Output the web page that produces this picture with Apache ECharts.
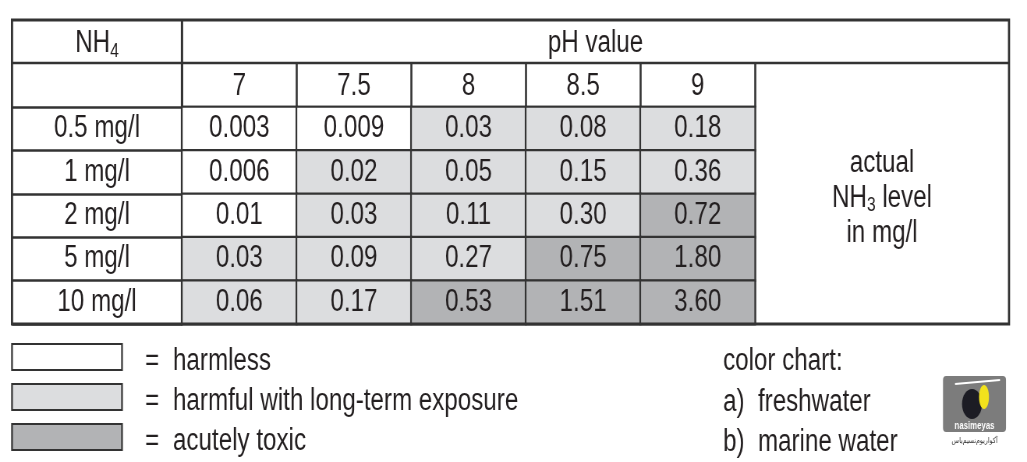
<!DOCTYPE html>
<html>
<head>
<meta charset="utf-8">
<script src="https://cdn.jsdelivr.net/npm/echarts@6/dist/echarts.min.js"></script>
<style>
  html, body { margin: 0; padding: 0; background: #fff; overflow: hidden; }
  /* drawn wide, then squeezed to get a condensed type look */
  #main { width: 1317px; height: 462px; transform: scaleX(0.779803); transform-origin: 0 0; }
</style>
</head>
<body>
<div id="main"></div>
<script>
// table data
const phValues = ['7', '7.5', '8', '8.5', '9']
const nh4Levels = ['0.5 mg/l', '1 mg/l', '2 mg/l', '5 mg/l', '10 mg/l']
// actual NH3 level in mg/l, one row per NH4 level
const nh3Rows = [
    ['0.003', '0.009', '0.03', '0.08', '0.18'],
    ['0.006', '0.02', '0.05', '0.15', '0.36'],
    ['0.01', '0.03', '0.11', '0.30', '0.72'],
    ['0.03', '0.09', '0.27', '0.75', '1.80'],
    ['0.06', '0.17', '0.53', '1.51', '3.60']
]
const classNames = ['harmless', 'harmful with long-term exposure', 'acutely toxic']
const classColors = ['#ffffff', '#dcdddf', '#b2b3b5']
const classLimits = [0.02, 0.5]
const colorChart = ['color chart:', 'a)  freshwater', 'b)  marine water']

const SX = 1027 / 1317
const X = v => v / SX   // page x -> chart x (chart is squeezed by css)
const FONT = "'Liberation Sans', Arial, sans-serif"
const FS = 31
const INK = '#231f20'
const LINE = '#333333'

// layout of the table frame (page pixels)
const L = { left: 12, right: 1009, top: 20, mid: 63, gridTop: 107, bottom: 324, gridLeft: 182, gridRight: 755 }

const data = []
nh3Rows.forEach((row, r) => {
    row.forEach((v, c) => {
        data.push([c, r, parseFloat(v), v])
    })
})

const graphic = [
    // outer frame
    { type: 'rect', z: 10, shape: { x: X(L.left), y: L.top, width: X(L.right - L.left), height: L.bottom - L.top },
      style: { fill: 'none', stroke: LINE, lineWidth: 2.8 } },
    { type: 'line', z: 10, shape: { x1: X(L.left), y1: L.mid, x2: X(L.right), y2: L.mid },
      style: { stroke: LINE, lineWidth: 2.5 } },
    { type: 'line', z: 10, shape: { x1: X(L.gridLeft), y1: L.top, x2: X(L.gridLeft), y2: L.gridTop },
      style: { stroke: LINE, lineWidth: 3 } },
    // headers
    { type: 'text', z: 11, x: X((L.left + L.gridLeft) / 2), y: (L.top + L.mid) / 2 + 2,
      style: { text: '{n|NH}{s|4}', align: 'center', verticalAlign: 'middle',
        rich: { n: { fontSize: FS, fontFamily: FONT, fill: INK },
                s: { fontSize: 20, fontFamily: FONT, fill: INK, padding: [15, 0, 0, 0] } } } },
    { type: 'text', z: 11, x: X((L.gridLeft + L.right) / 2), y: (L.top + L.mid) / 2 + 2,
      style: { text: 'pH value', fontSize: FS, fontFamily: FONT, fill: INK, align: 'center', verticalAlign: 'middle' } },
    { type: 'text', z: 11, x: X((L.gridRight + L.right) / 2), y: 198,
      style: { text: '{a|actual}\n{a|NH}{s|3}{a| level}\n{a|in mg/l}', align: 'center', verticalAlign: 'middle',
        rich: { a: { fontSize: FS, fontFamily: FONT, fill: INK, lineHeight: 35 },
                s: { fontSize: 20, fontFamily: FONT, fill: INK, lineHeight: 35, padding: [15, 0, 0, 0] } } } }
]

// legend boxes
classNames.forEach((name, i) => {
    const cy = [357, 397, 437][i]
    graphic.push({ type: 'rect', shape: { x: X(12), y: cy - 13, width: X(110), height: 26 },
        style: { fill: classColors[i], stroke: LINE, lineWidth: 2.2 } })
    graphic.push({ type: 'text', x: X(145), y: cy + 4,
        style: { text: '=', fontSize: FS, fontFamily: FONT, fill: INK, verticalAlign: 'middle' } })
    graphic.push({ type: 'text', x: X(173), y: cy + 4,
        style: { text: name, fontSize: FS, fontFamily: FONT, fill: INK, verticalAlign: 'middle' } })
})
colorChart.forEach((t, i) => {
    graphic.push({ type: 'text', x: X(723), y: [361, 402, 442][i],
        style: { text: t, fontSize: FS, fontFamily: FONT, fill: INK, verticalAlign: 'middle' } })
})

// small logo
graphic.push(
    { type: 'rect', shape: { x: X(943), y: 376, width: X(63), height: 56, r: 4 }, style: { fill: '#7c7c7c' } },
    { type: 'ellipse', shape: { cx: X(972), cy: 404, rx: X(10), ry: 15 }, style: { fill: '#1c1c24' } },
    { type: 'ellipse', shape: { cx: X(984), cy: 397, rx: X(5), ry: 12 }, style: { fill: '#f2e21c' } },
    { type: 'line', shape: { x1: X(955), y1: 384, x2: X(1000), y2: 380 }, style: { stroke: '#ffffff', lineWidth: 2 } },
    { type: 'text', x: X(974.5), y: 426, style: { text: 'nasimeyas', fontSize: 10, fontWeight: 'bold',
      fontFamily: FONT, fill: '#ffffff', align: 'center', verticalAlign: 'middle' } },
    { type: 'text', x: X(974.5), y: 441, style: { text: 'آکواریوم‌نسیم‌یاس', fontSize: 8,
      fontFamily: 'DejaVu Sans', fill: '#333', align: 'center', verticalAlign: 'middle' } }
)

const option = {
    animation: false,
    grid: {
        left: X(L.gridLeft),
        top: L.gridTop,
        width: X(L.gridRight - L.gridLeft),
        height: L.bottom - L.gridTop,
        show: true,
        borderColor: LINE,
        borderWidth: 2.5
    },
    xAxis: {
        type: 'category',
        position: 'top',
        data: phValues,
        axisLine: { show: true, lineStyle: { color: LINE, width: 2.5 } },
        axisTick: { show: true, length: L.gridTop - L.mid, lineStyle: { color: LINE, width: 2.6 } },
        axisLabel: { margin: 21, verticalAlign: 'middle', fontSize: FS, fontFamily: FONT, color: INK },
        splitLine: { show: false }
    },
    yAxis: {
        type: 'category',
        inverse: true,
        data: nh4Levels,
        axisLine: { show: true, lineStyle: { color: LINE, width: 3.2 } },
        axisTick: { show: true, length: X(L.gridLeft - L.left), lineStyle: { color: LINE, width: 2.5 } },
        axisLabel: { margin: X(L.gridLeft - L.left) / 2, align: 'center', fontSize: FS, fontFamily: FONT, color: INK,
                     padding: [3, 0, 0, 0] },
        splitLine: { show: false }
    },
    visualMap: {
        type: 'piecewise',
        show: false,
        dimension: 2,
        seriesIndex: 0,
        pieces: [
            { lt: classLimits[0], color: classColors[0] },
            { gte: classLimits[0], lt: classLimits[1], color: classColors[1] },
            { gte: classLimits[1], color: classColors[2] }
        ]
    },
    series: [{
        type: 'heatmap',
        data: data,
        itemStyle: { borderColor: LINE, borderWidth: 2.2 },
        label: {
            show: true,
            formatter: p => p.data[3],
            fontSize: FS,
            fontFamily: FONT,
            color: INK,
            padding: [3, 0, 0, 0]
        },
        emphasis: { disabled: true }
    }],
    graphic: graphic
}

var myChart = echarts.init(document.getElementById('main'), null, { renderer: 'canvas' })
myChart.setOption(option)
</script>
</body>
</html>
